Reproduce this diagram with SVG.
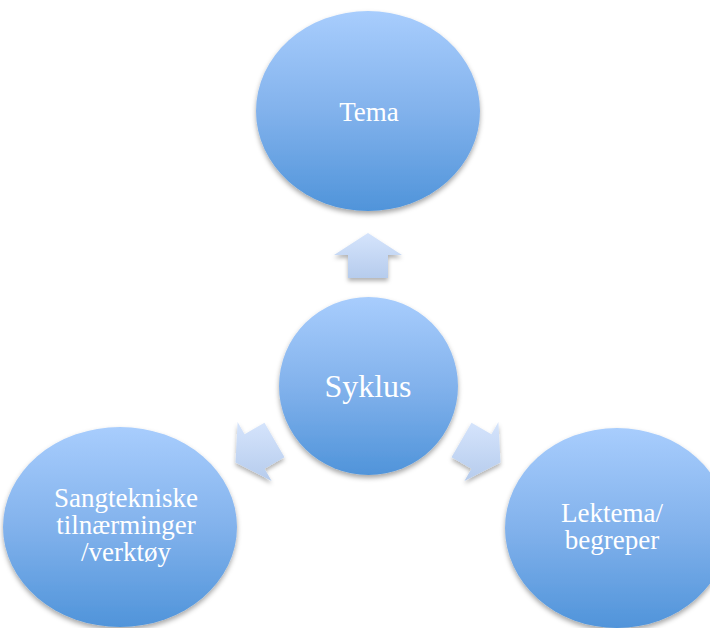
<svg xmlns="http://www.w3.org/2000/svg" width="710" height="628" viewBox="0 0 710 628">
<defs>
<linearGradient id="gNode" x1="0" y1="0" x2="0" y2="1">
<stop offset="0" stop-color="#a8cdfd"/>
<stop offset="0.5" stop-color="#82b2ec"/>
<stop offset="1" stop-color="#5094da"/>
</linearGradient>
<linearGradient id="gArrow" x1="0" y1="0" x2="0" y2="1">
<stop offset="0" stop-color="#d5e4fc"/>
<stop offset="1" stop-color="#b6cced"/>
</linearGradient>
<filter id="sh" x="-20%" y="-20%" width="140%" height="150%">
<feDropShadow dx="0" dy="3" stdDeviation="2.5" flood-color="#000" flood-opacity="0.35"/>
</filter>
<filter id="shA" x="-30%" y="-30%" width="160%" height="170%">
<feDropShadow dx="0" dy="3" stdDeviation="2" flood-color="#000" flood-opacity="0.3"/>
</filter>
</defs>
<style>
.node{fill:url(#gNode);filter:url(#sh)}
.arrow{fill:url(#gArrow);filter:url(#shA)}
.lbl{font-family:"Liberation Serif","DejaVu Serif",serif;fill:#ffffff;text-anchor:middle}
</style>
<rect width="710" height="628" fill="#ffffff"/>
<g id="connectors">
<polygon class="arrow" points="368,233 402,255 388,255 388,278 348,278 348,255 334,255"/>
<polygon class="arrow" points="235.5,462.5 237.6,422.1 244.6,434.2 264.5,422.7 284.5,457.3 264.6,468.8 271.6,480.9"/>
<polygon class="arrow" points="500.5,462.5 464.4,480.9 471.4,468.8 451.5,457.3 471.5,422.7 491.4,434.2 498.4,422.1"/>
</g>
<g id="node-tema">
<ellipse class="node" cx="368" cy="111" rx="112" ry="100"/>
<text class="lbl" x="369" y="121" font-size="27">Tema</text>
</g>
<g id="node-syklus">
<ellipse class="node" cx="368.5" cy="386" rx="89.5" ry="89"/>
<text class="lbl" x="368" y="397" font-size="32">Syklus</text>
</g>
<g id="node-sangtekniske">
<ellipse class="node" cx="120" cy="527" rx="117" ry="100"/>
<text class="lbl" x="126" y="507" font-size="27">Sangtekniske</text>
<text class="lbl" x="126" y="534" font-size="27">tilnærminger</text>
<text class="lbl" x="126" y="561" font-size="27">/verktøy</text>
</g>
<g id="node-lektema">
<ellipse class="node" cx="617" cy="528" rx="112" ry="100"/>
<text class="lbl" x="612" y="522" font-size="27">Lektema/</text>
<text class="lbl" x="612" y="549" font-size="27">begreper</text>
</g>
</svg>
